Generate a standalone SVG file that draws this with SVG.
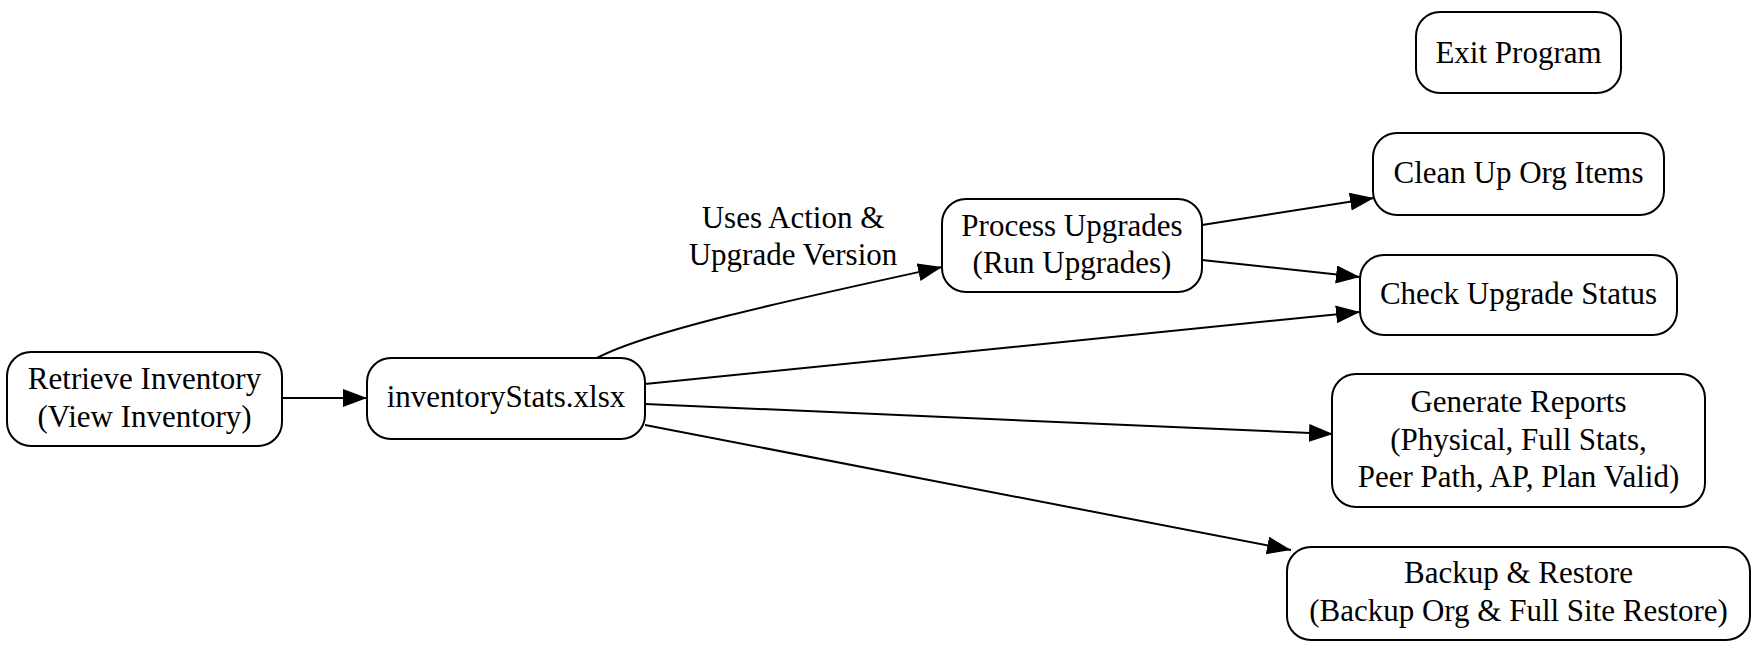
<svg xmlns="http://www.w3.org/2000/svg" width="1762" height="654" viewBox="0 0 1762 654">
<style>
.box{fill:#fff;stroke:#000;stroke-width:2}
.t{font-family:"Liberation Serif","Times New Roman",serif;font-size:31px;fill:#000;text-anchor:middle}
.e{fill:none;stroke:#000;stroke-width:2}
</style>
<defs>
<marker id="ah" markerUnits="userSpaceOnUse" markerWidth="25" markerHeight="20" refX="24" refY="9" orient="auto">
<path d="M0,0 L24,9 L0,18 z" fill="#000"/>
</marker>
</defs>
<rect width="1762" height="654" fill="#fff"/>
<g id="connectors">
<path class="e" d="M282,398 L367,398" marker-end="url(#ah)"/>
<path class="e" d="M597,358 C650,330 800,298 942,267" marker-end="url(#ah)"/>
<path class="e" d="M1202,225 L1374,198" marker-end="url(#ah)"/>
<path class="e" d="M1202,260 L1360,277" marker-end="url(#ah)"/>
<path class="e" d="M645,384 L1360,312" marker-end="url(#ah)"/>
<path class="e" d="M645,404 L1333,434" marker-end="url(#ah)"/>
<path class="e" d="M645,425 L1291,550" marker-end="url(#ah)"/>
<text class="t" x="793" y="228">Uses Action &amp;</text>
<text class="t" x="793" y="265">Upgrade Version</text>
</g>
<g id="retrieve">
<rect class="box" x="7" y="352" width="275" height="94" rx="24"/>
<text class="t" x="144.5" y="389">Retrieve Inventory</text>
<text class="t" x="144.5" y="427">(View Inventory)</text>
</g>
<g id="inventoryStats">
<rect class="box" x="367" y="358" width="278" height="81" rx="24"/>
<text class="t" x="506" y="407">inventoryStats.xlsx</text>
</g>
<g id="process">
<rect class="box" x="942" y="199" width="260" height="93" rx="24"/>
<text class="t" x="1072" y="236">Process Upgrades</text>
<text class="t" x="1072" y="273">(Run Upgrades)</text>
</g>
<g id="exit">
<rect class="box" x="1416" y="12" width="205" height="81" rx="24"/>
<text class="t" x="1518.5" y="63">Exit Program</text>
</g>
<g id="clean">
<rect class="box" x="1373" y="133" width="291" height="82" rx="24"/>
<text class="t" x="1518.5" y="183">Clean Up Org Items</text>
</g>
<g id="check">
<rect class="box" x="1360" y="255" width="317" height="80" rx="24"/>
<text class="t" x="1518.5" y="304">Check Upgrade Status</text>
</g>
<g id="generate">
<rect class="box" x="1332" y="374" width="373" height="133" rx="24"/>
<text class="t" x="1518.5" y="412">Generate Reports</text>
<text class="t" x="1518.5" y="450">(Physical, Full Stats,</text>
<text class="t" x="1518.5" y="487">Peer Path, AP, Plan Valid)</text>
</g>
<g id="backup">
<rect class="box" x="1287" y="547" width="463" height="93" rx="24"/>
<text class="t" x="1518.5" y="583">Backup &amp; Restore</text>
<text class="t" x="1518.5" y="621">(Backup Org &amp; Full Site Restore)</text>
</g>
</svg>
